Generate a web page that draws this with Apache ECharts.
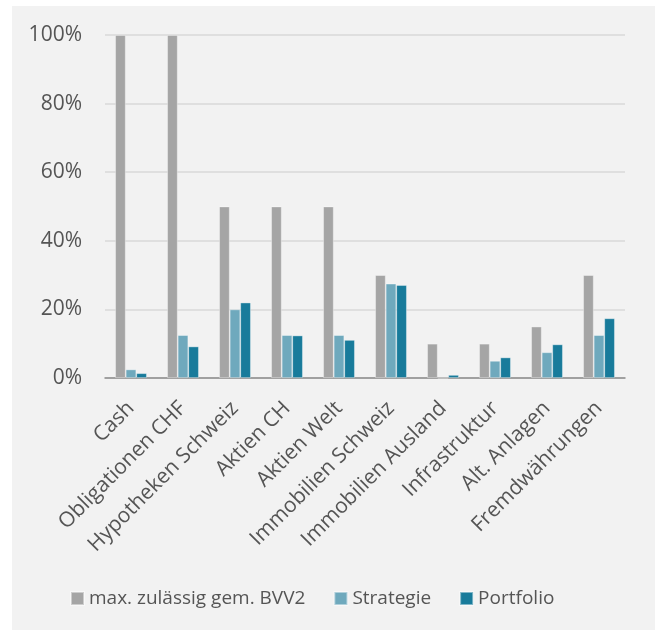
<!DOCTYPE html>
<html>
<head>
<meta charset="utf-8">
<script src="https://cdn.jsdelivr.net/npm/echarts@6/dist/echarts.min.js"></script>
<style>
html,body{margin:0;padding:0;background:#ffffff;}
#chart{width:660px;height:630px;}
</style>
</head>
<body>
<div id="chart"></div>
<script>
const categories = ['Cash','Obligationen CHF','Hypotheken Schweiz','Aktien CH','Aktien Welt','Immobilien Schweiz','Immobilien Ausland','Infrastruktur','Alt. Anlagen','Fremdwährungen'];
const maxBVV2 = [100, 100, 50, 50, 50, 30, 10, 10, 15, 30];
const strategie = [2.5, 12.5, 20, 12.5, 12.5, 27.5, 0, 5, 7.5, 12.5];
const portfolio = [1.4, 9.2, 22, 12.4, 11.1, 27.1, 0.9, 6, 9.8, 17.4];
const seriesNames = ['max. zulässig gem. BVV2', 'Strategie', 'Portfolio'];
const yTicks = [0, 20, 40, 60, 80, 100];

const FONT = '"Open Sans", sans-serif';
const TEXT = '#555555';
const chart = echarts.init(document.getElementById('chart'));
const barStyle = (c) => ({ color: c, borderColor: 'rgba(255,255,255,0.45)', borderWidth: 0.8 });
chart.setOption({
  backgroundColor: '#ffffff',
  animation: false,
  textStyle: { fontFamily: FONT, color: TEXT },
  graphic: [{
    type: 'rect', z: -10, silent: true,
    shape: { x: 12, y: 6, width: 643, height: 624 },
    style: { fill: '#f2f2f2' }
  }],
  grid: { left: 105, right: 35, top: 35, bottom: 252 },
  legend: {
    bottom: 17, left: 65,
    itemWidth: 13, itemHeight: 13, itemGap: 28,
    icon: 'rect',
    textStyle: { fontFamily: FONT, fontSize: 19, color: TEXT },
    data: seriesNames
  },
  xAxis: {
    type: 'category', data: categories,
    axisLine: { lineStyle: { color: '#8c8c8c', width: 1.5 } },
    axisTick: { show: false },
    axisLabel: { rotate: 45, interval: 0, margin: 27, fontFamily: FONT, fontSize: 21, color: TEXT }
  },
  yAxis: {
    type: 'value', min: yTicks[0], max: yTicks[yTicks.length-1], interval: 20,
    axisLine: { show: false }, axisTick: { show: false },
    splitLine: { lineStyle: { color: '#d9d9d9', width: 1.5 } },
    axisLabel: { formatter: '{value}%', margin: 23, fontFamily: FONT, fontSize: 21, color: TEXT }
  },
  series: [
    { name: seriesNames[0], type: 'bar', data: maxBVV2, itemStyle: barStyle('#a5a5a5'), barGap: '0%', barCategoryGap: '39%' },
    { name: seriesNames[1], type: 'bar', data: strategie, itemStyle: barStyle('#6fa9bd') },
    { name: seriesNames[2], type: 'bar', data: portfolio, itemStyle: barStyle('#187b9b') }
  ]
});
</script>
</body>
</html>
